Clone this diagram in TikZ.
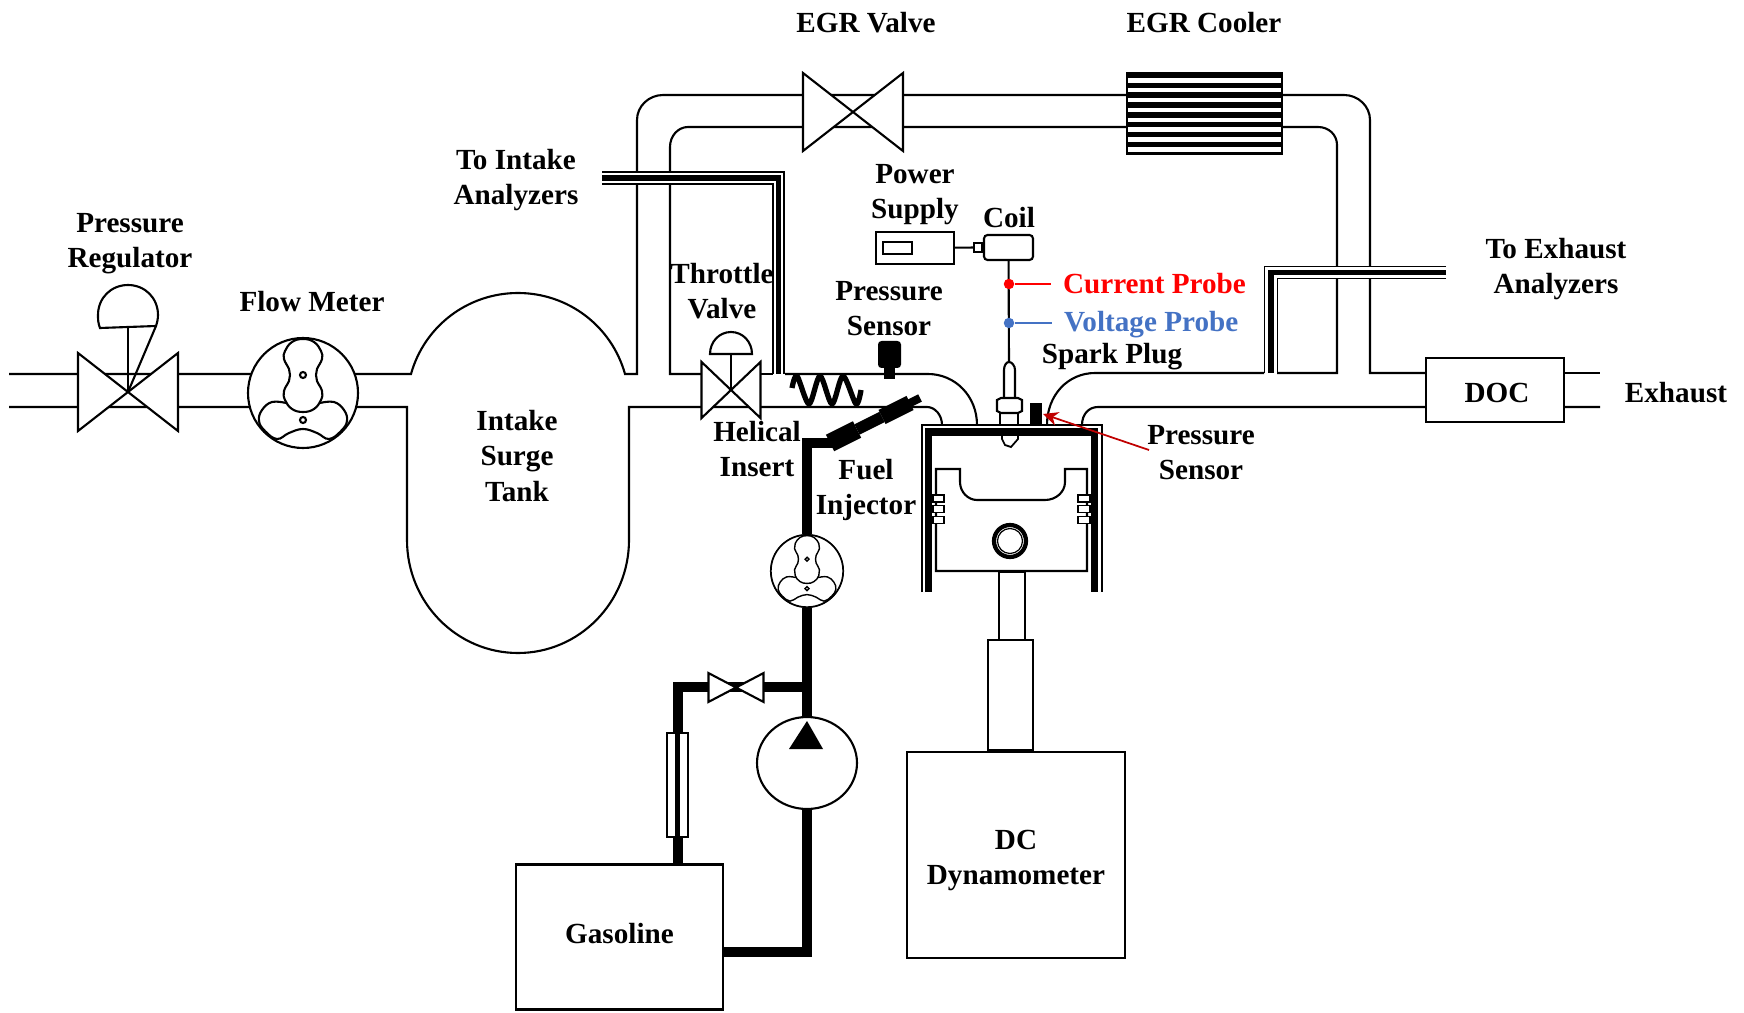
\documentclass[tikz,border=0pt]{standalone}
\usepackage{fontspec}
\setmainfont{Liberation Serif}
\usetikzlibrary{shapes.geometric, arrows.meta, positioning}

\definecolor{probeblue}{HTML}{4472C4}
\definecolor{arrowred}{HTML}{C00000}

\tikzset{
    bowtie/.pic={
        \draw[fill=white] (-50,-39) -- (50,39) -- (50,-39) -- (-50,39) -- cycle;
    },
    rotor/.pic={
        \draw[fill=white] (0,0) circle[radius=55];
        \draw plot[smooth, tension=.7] coordinates {(17,10) (31,9) (41,17) (44,28) (38,38) (26,46) (14,40) (0,36) (-14,40) (-26,46) (-38,38) (-44,28) (-41,17) (-31,9) (-17,10)};
        \draw[fill=white] plot[smooth cycle, tension=.7] coordinates {(0,-54) (11,-51) (18,-42) (19,-34) (14,-24) (13,-18) (14,-12) (19,-2) (18,7) (11,16) (0,19) (-11,16) (-18,7) (-19,-2) (-14,-12) (-13,-18) (-14,-24) (-19,-34) (-18,-42) (-11,-51)};
        \draw (0,-18) circle[radius=3];
        \draw (0,27) circle[radius=3];
    }
}

\begin{document}
\begin{tikzpicture}[
    x=0.02cm, y=-0.02cm,
    line width=1.2pt,
    pipe/.style={draw, line width=1.2pt},
    tube/.style={draw, line width=1.1pt},
    fuelline/.style={draw, line width=5.7pt},
    box/.style={rectangle, draw, fill=white, inner sep=0pt, line width=1.2pt},
    caption/.style={font=\fontsize{16.6}{20}\selectfont\bfseries, align=center, inner sep=0pt},
    dot/.style={circle, inner sep=0pt, minimum size=0.21cm},
    ring/.style={draw, fill=white, line width=0.8pt}
]
    \useasboundingbox (0,0) rectangle (1744,1013);

    \path [pipe] (9,374) -- (411,374) .. controls (424.4,326) and (468,293) .. (518,293) .. controls (568,293) and (611.6,326) .. (625,374) -- (637,374) -- (637,120) .. controls (637,106) and (649,95) .. (663,95) -- (1344,95) .. controls (1358,95) and (1370,106) .. (1370,120) -- (1370,373) -- (1430,373);
    \path [pipe] (9,407) -- (407,407) -- (407,540) .. controls (407,602.4) and (456.7,653) .. (518,653) .. controls (579.3,653) and (629,602.4) .. (629,540) -- (629,407) -- (927,407) .. controls (935,407) and (942,415) .. (942,425);
    \path [pipe] (701,374) -- (670,374) -- (670,147) .. controls (670,136) and (678,127) .. (688,127) -- (1318,127) .. controls (1329,127) and (1337,135) .. (1337,145) -- (1337,373) -- (1277,373);
    \path [pipe] (755,374) -- (773,374);
    \path [pipe] (785,374) -- (928,374) .. controls (955,374) and (977,396) .. (977,425);
    \path [pipe] (1264,373) -- (1095,373) .. controls (1068,373) and (1047,395) .. (1047,425);
    \path [pipe] (1600,407) -- (1098,407) .. controls (1089,407) and (1082,414) .. (1082,425);
    \path [pipe] (1560,373) -- (1600,373);

    \fill [white] (602,172) rectangle (784,184);
    \path [tube] (602,172) -- (784,172) -- (784,374);
    \path [tube, line width=3.2pt] (602,178) -- (778.5,178) -- (778.5,374);
    \path [tube] (602,184) -- (773,184) -- (773,374);
    \fill [white] (1264,266) rectangle (1446,279);
    \path [tube] (1446,266.5) -- (1264.5,266.5) -- (1264.5,373);
    \path [tube, line width=3.4pt] (1446,272.5) -- (1271,272.5) -- (1271,373);
    \path [tube] (1446,278.5) -- (1277.5,278.5) -- (1277.5,373);

    \pic at (128,392) {bowtie};
    \draw [fill=white] (100,328) .. controls (98,323) and (98,319) .. (98,315) .. controls (98,298) and (111,285) .. (128,285) .. controls (145,285) and (158,298) .. (158,315) .. controls (158,319) and (157,323) .. (156,326) -- cycle;
    \draw (128,327) -- (128,392);
    \draw (156,326) -- (128,392);
    \pic at (303,393) {rotor};
    \pic at (853,112) {bowtie};
    \pic [xscale=0.59, yscale=0.72] at (731,390) {bowtie};
    \draw [fill=white] (710,354) .. controls (710,342) and (719,332) .. (731,332) .. controls (743,332) and (752,342) .. (752,354) -- cycle;
    \draw (731,354) -- (731,390);

    \fill [black] (1125.5,72) rectangle (1283,155);
    \foreach \y in {0,...,7}
        \fill [white] (1128,78+9.9*\y) rectangle (1281,82.6+9.9*\y);

    \draw [line width=3pt, line join=round] plot[smooth, tension=.5] coordinates {(792,388) (797,376) (809,404) (820,376) (832,404) (843,376) (856,404) (861,390)};

    \fill [black, rounded corners=2pt] (878,341) rectangle (901,368);
    \fill [black] (884,360) rectangle (895,379);

    \foreach \a/\b/\c/\d/\w in {920/398/908/404/4.6, 910/403/882/417/9, 882/417/857/429.5/6.5, 857/429.5/830/443/10.5}
        \draw [line width=\w pt] (\a,\b) -- (\c,\d);

    \node [box, minimum width=2.76cm, minimum height=1.28cm] (doc) at (1495,390) {};
    \node [box, minimum width=4.14cm, minimum height=2.9cm, caption] (gasoline) at (619.5,937) {\raisebox{4pt}{Gasoline}};
    \node [box, minimum width=4.36cm, minimum height=4.12cm, caption] (dyno) at (1016,855) {\\[-2pt]DC\\Dynamometer\\[-16pt]};
    \node [box, minimum width=1.56cm, minimum height=0.64cm] (supply) at (915,248) {};
    \node [box, minimum width=0.58cm, minimum height=0.24cm] (supplywindow) at (897.5,248) {};
    \node [box, minimum width=0.98cm, minimum height=0.5cm, rounded corners=2pt] (coil) at (1008.5,247.5) {};
    \node [box, minimum width=0.16cm, minimum height=0.18cm, left=0pt of coil] (coilstub) {};
    \draw (supply) -- (coilstub);

    \coordinate (plugtop) at (1009,364);
    \draw (coil) -- (plugtop);
    \node [dot, fill=red] (currentdot) at (1009,284) {};
    \node [dot, fill=probeblue] (voltagedot) at (1009,323) {};
    \node [caption, text=red, anchor=west] (currentprobe) at (1062,284) {Current Probe};
    \node [caption, text=probeblue, anchor=west] (voltageprobe) at (1063,325) {Voltage Probe};
    \draw [red, shorten >=0.22cm] (currentdot) -- (currentprobe);
    \draw [probeblue, shorten >=0.22cm] (voltagedot) -- (voltagedot -| voltageprobe.west);

    \path [box] (1004,426) -- (1004,370) .. controls (1004,366) and (1006,362) .. (1009,362) .. controls (1012,362) and (1015,366) .. (1015,370) -- (1015,426) -- cycle;
    \path [box] (1000,413) rectangle (1018,426);
    \path [box] (997,400) -- (1001,398) -- (1018,398) -- (1022,400) -- (1022,411) -- (1018,413) -- (1001,413) -- (997,411) -- cycle;
    \node [fill=black, minimum width=0.24cm, minimum height=0.44cm, inner sep=0pt] (headsensor) at (1036,414) {};

    \fill [white] (922,425) rectangle (1102,592);
    \path [tube] (922,592) -- (922,425) -- (1102,425) -- (1102,592);
    \path [tube, line width=4.4pt] (928.5,592) -- (928.5,432) -- (1094.5,432) -- (1094.5,592);
    \path [box, line width=1pt] (1002,435) -- (1018,435) -- (1018,439) -- (1011,447) -- (1005,445) -- (1002,439) -- cycle;

    \path [box] (936,469) -- (960,469) -- (960,482) .. controls (960,492) and (968,500) .. (977,500) -- (1045,500) .. controls (1056,500) and (1065,492) .. (1065,482) -- (1065,469) -- (1087,469) -- (1087,571) -- (936,571) -- cycle;
    \foreach \y in {498.5,509,520} {
        \path [ring] (933,\y-3.5) rectangle (944,\y+3.5);
        \path [ring] (1078,\y-3.5) rectangle (1090,\y+3.5);
    }
    \draw [line width=2.4pt] (1010,541) circle[radius=16];
    \draw [line width=0.7pt] (1010,541) circle[radius=12.5];
    \node [box, minimum width=0.52cm, minimum height=1.4cm, anchor=north] (rod) at (1012,571) {};
    \node [box, minimum width=0.9cm, minimum height=2.2cm, anchor=south, xshift=-0.11cm] (block) at (dyno.north) {};

    \node [box, line width=1.6pt, minimum width=0.42cm, minimum height=2.08cm] (filter) at (677.5,785) {};
    \node [draw, circle, fill=white, minimum size=1.44cm, inner sep=0pt] (fuelmeter) at (807,571) {};
    \node [draw, ellipse, fill=white, minimum width=2cm, minimum height=1.84cm, inner sep=0pt] (pump) at (807,763) {};

    \path [fuelline] ([yshift=-0.3cm]gasoline.east) -| (pump.south);
    \path [fuelline] (pump.north) -- (fuelmeter.south);
    \path [fuelline] (fuelmeter.north) -- (807,443) -- (835,443);
    \path [fuelline] (gasoline.north -| filter.south) -- (filter.south);
    \path [fuelline] (filter.north) |- (807,687);
    \draw [line width=3pt] (filter.north) -- (filter.south);
    \pic [xscale=0.55, yscale=0.37] at (736,687.5) {bowtie};
    \pic [scale=0.655, line width=0.8pt] at (fuelmeter) {rotor};
    \fill (807,721) -- (823,749) -- (789,749) -- cycle;

    \coordinate (arrowstart) at (1149,450);
    \draw [arrowred, line width=1pt, -{Stealth[length=0.3cm, width=0.28cm]}] (arrowstart) -- (headsensor.east);

    \node [caption] (doclabel) at (1497,393) {DOC};
    \node [caption] (egrvalvelabel) at (866,23) {EGR Valve};
    \node [caption] (egrcoolerlabel) at (1204,23) {EGR Cooler};
    \node [caption] (intakeanalyzers) at (516,180) {To Intake\\Analyzers};
    \node [caption] (supplylabel) at (915,195) {Power\\Supply};
    \node [caption] (coillabel) at (1009,218) {Coil};
    \node [caption] (regulatorlabel) at (130,244) {Pressure\\Regulator};
    \node [caption] (flowmeterlabel) at (312,302) {Flow Meter};
    \node [caption] (throttlelabel) at (722,291) {Throttle\\Valve};
    \node [caption] (portsensorlabel) at (889,309) {Pressure\\Sensor};
    \node [caption] (sparklabel) at (1112,357) {Spark Plug};
    \node [caption] (exhaustanalyzers) at (1556,269) {To Exhaust\\Analyzers};
    \node [caption] (exhaustlabel) at (1676,393) {Exhaust};
    \node [caption] (headsensorlabel) at (1201,453) {Pressure\\Sensor};
    \node [caption] (helicallabel) at (757,449) {Helical\\Insert};
    \node [caption] (injectorlabel) at (866,490) {Fuel\\Injector};
    \node [caption] (tanklabel) at (517,456) {Intake\\Surge\\Tank};
\end{tikzpicture}
\end{document}
